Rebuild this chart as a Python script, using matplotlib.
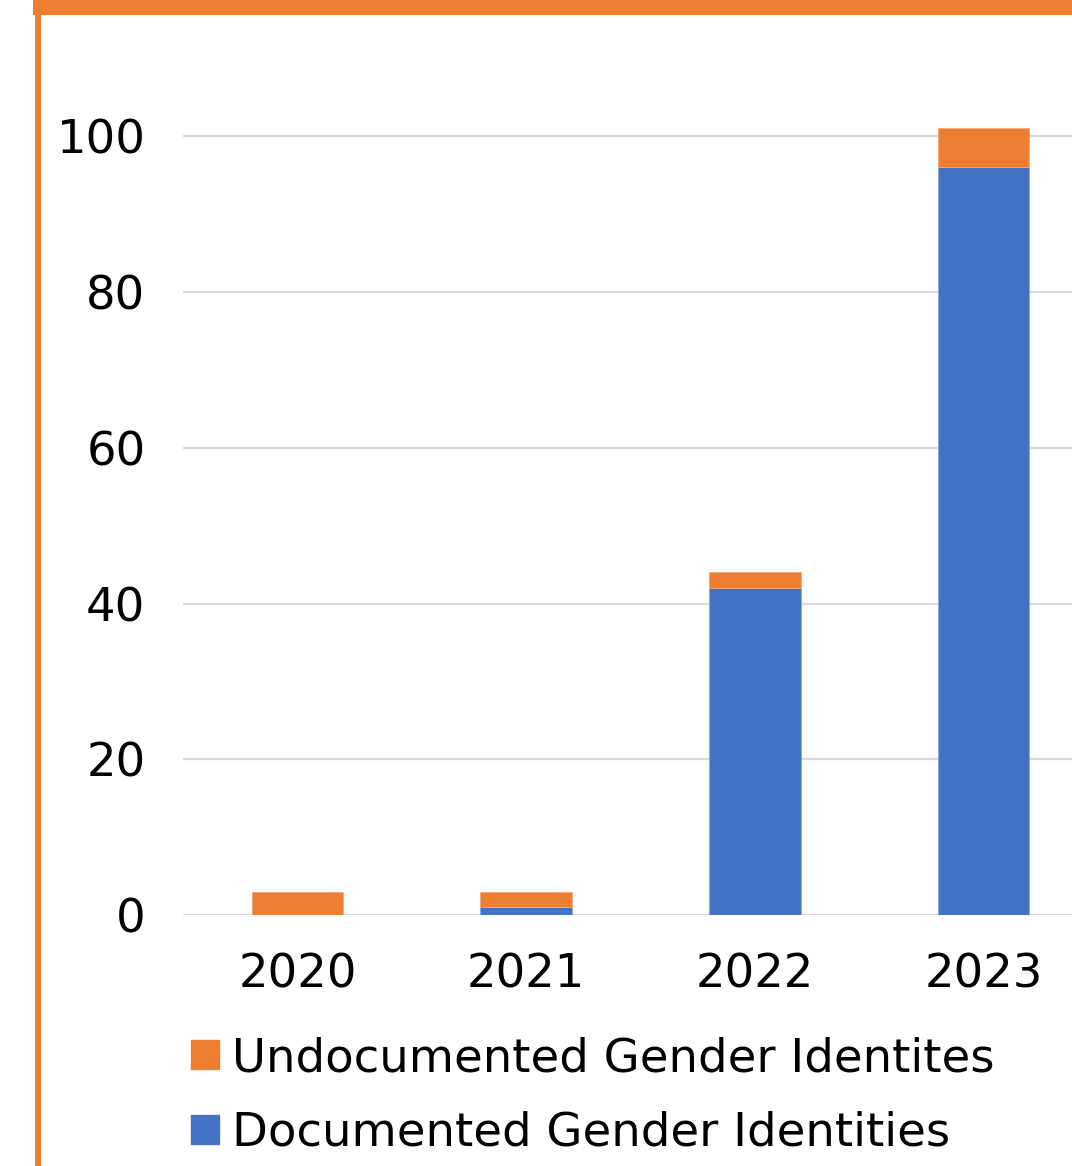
# stacked bars of gender identity documentation per year

import matplotlib.pyplot as plt
from matplotlib.patches import Rectangle, Patch

years = ['2020', '2021', '2022', '2023']
documented = [0, 1, 42, 96]
undocumented = [3, 2, 2, 5]

orange = '#ED7D31'
blue = '#4472C4'

plt.rcParams['font.family'] = ['DejaVu Sans']

fig = plt.figure(figsize=(10.72, 11.66), dpi=100)
ax = fig.add_axes([183 / 1072, 251 / 1166, 915 / 1072, 915 / 1166])

x = range(len(years))
ax.bar(x, documented, width=0.4, color=blue, edgecolor='#8fa8dc', linewidth=0.6,
       label='Documented Gender Identities', zorder=3)
ax.bar(x, undocumented, width=0.4, bottom=documented, color=orange,
       edgecolor='#f4a775', linewidth=0.6,
       label='Undocumented Gender Identites', zorder=3)

ax.set_xlim(-0.5, 3.5)
ax.set_ylim(0, 117.5)
ax.set_yticks([0, 20, 40, 60, 80, 100])
ax.set_xticks(list(x))
ax.set_xticklabels(years)
ax.yaxis.grid(True, color='#d9d9d9', linewidth=1.6, zorder=0)
ax.set_axisbelow(True)
for s in ax.spines.values():
    s.set_visible(False)
ax.tick_params(axis='both', length=0, labelsize=33.5, colors='black')
ax.tick_params(axis='y', pad=27)
ax.tick_params(axis='x', pad=27)

handles = [Patch(color=orange), Patch(color=blue)]
labels = ['Undocumented Gender Identites', 'Documented Gender Identities']
fig.legend(handles, labels, loc='upper left', bbox_to_anchor=(191 / 1072, 1 - 1036 / 1166),
           frameon=False, fontsize=33.5, handlelength=0.6, handleheight=0.6,
           handletextpad=0.28, labelspacing=0.64, borderaxespad=0, borderpad=0)

# orange frame on top and left
fig.add_artist(Rectangle((33 / 1072, 1 - 15 / 1166), 1, 15 / 1166,
                         transform=fig.transFigure, color=orange, lw=0))
fig.add_artist(Rectangle((35 / 1072, 0), 6 / 1072, 1,
                         transform=fig.transFigure, color=orange, lw=0))

fig.savefig('out.png', dpi=100)
